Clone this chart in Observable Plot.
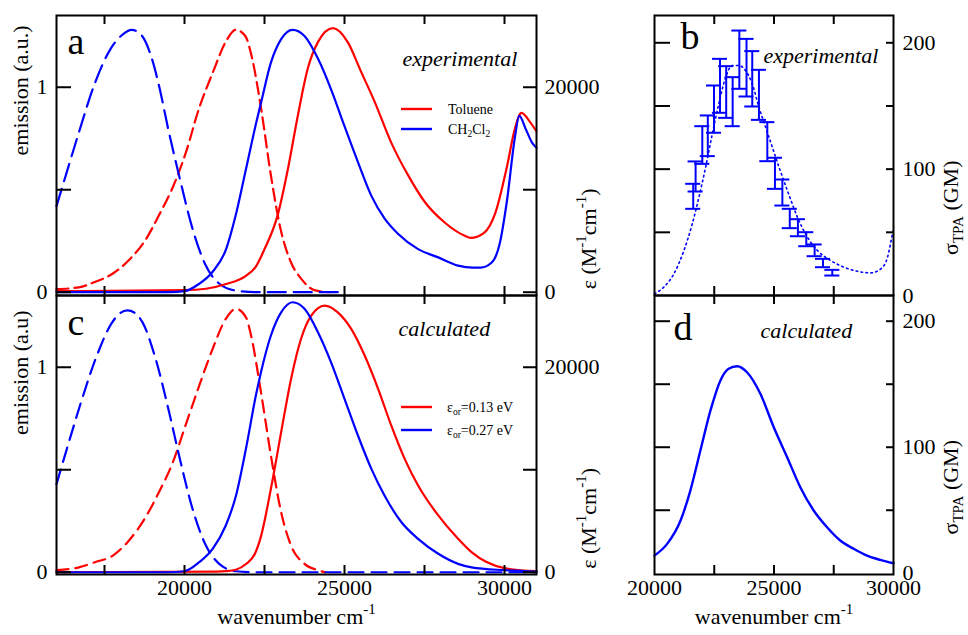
<!DOCTYPE html>
<html>
<head>
<meta charset="utf-8">
<script src="https://cdn.jsdelivr.net/npm/d3@7"></script>
<script src="https://cdn.jsdelivr.net/npm/@observablehq/plot@0.6"></script>
<style>
  html, body { margin: 0; padding: 0; background: #fff; }
  #fig { position: relative; width: 968px; height: 635px; overflow: hidden; background: #fff; }
  #fig svg { position: absolute; left: 0; top: 0; }
  #fig svg text, #fig svg tspan { font-family: "Liberation Serif", "DejaVu Serif", serif !important; }
</style>
</head>
<body>
<div id="fig"></div>
<script>
// ================= DATA =================
// Right-hand absorption axis: 20000 M^-1 cm^-1 lines up with emission = 1
const EPS_PER_UNIT = 20000;

// Panel a (experimental) — emission, normalised [wavenumber, a.u.]
const expEmToluene = [[16000,0.015],[16700,0.024],[17200,0.05],[17750,0.09],[18250,0.155],[18800,0.26],[19200,0.375],[19600,0.5],[20050,0.685],[20450,0.895],[20880,1.07],[21300,1.225],[21600,1.28],[21900,1.25],[22100,1.15],[22400,0.89],[22700,0.57],[23000,0.31],[23330,0.145],[23650,0.065],[24060,0.01],[24500,0]];
const expEmCH2Cl2 = [[16000,0.42],[16300,0.575],[16700,0.78],[17200,1.02],[17700,1.19],[18050,1.255],[18350,1.28],[18650,1.255],[19000,1.13],[19200,1.01],[19500,0.79],[19830,0.57],[20250,0.31],[20650,0.135],[21100,0.04],[21600,0.008],[22200,0],[25000,0]];
// Panel a — absorption [wavenumber, epsilon M^-1 cm^-1]
const expAbsToluene = [[16000,100],[20000,200],[20670,340],[21300,800],[21920,1600],[22230,2500],[22500,4200],[22910,7500],[23230,12000],[23540,17200],[23850,21800],[24170,24400],[24640,25760],[25100,24400],[25520,21500],[25940,18600],[26460,14600],[26990,11400],[27510,8800],[28130,6800],[28760,5500],[28940,5300],[29360,5800],[29720,7800],[30080,12300],[30320,15900],[30530,17500],[30800,16600],[31000,15700]];
const expAbsCH2Cl2 = [[16000,0],[19500,0],[20000,100],[20450,800],[20880,2000],[21300,4200],[21600,7500],[21920,12000],[22230,16400],[22400,18600],[22700,22400],[23020,24700],[23380,25600],[23750,25000],[24170,22800],[24580,19800],[25000,16200],[25420,12700],[25840,9400],[26250,7200],[26670,5700],[27300,4200],[27930,3400],[28550,2600],[29000,2400],[29250,2400],[29600,2900],[29840,4600],[30080,9000],[30320,15000],[30460,17200],[30680,15800],[30860,14600],[31000,14100]];

// Panel c (calculated) — emission
const calcEm013 = [[16000,0.01],[16700,0.024],[17220,0.05],[17750,0.08],[18265,0.155],[18790,0.27],[19200,0.39],[19620,0.53],[20040,0.72],[20460,0.91],[20880,1.09],[21290,1.236],[21610,1.285],[21920,1.244],[22080,1.155],[22390,0.878],[22700,0.57],[23020,0.293],[23330,0.13],[23750,0.041],[24170,0.01],[24400,0]];
const calcEm027 = [[16000,0.43],[16385,0.634],[16800,0.846],[17220,1.04],[17745,1.22],[18000,1.265],[18215,1.277],[18450,1.265],[18685,1.22],[19100,1.04],[19520,0.78],[19830,0.57],[20250,0.31],[20670,0.13],[21085,0.041],[21600,0.005],[22200,0],[31000,0]];
// Panel c — absorption (epsilon)
const calcAbs013 = [[16000,0],[21000,60],[21290,100],[21600,240],[21920,800],[22200,1800],[22390,3500],[22700,8140],[23020,13660],[23330,18860],[23640,22760],[23960,25040],[24380,26020],[24790,25360],[25210,23740],[25630,21140],[26050,17900],[26460,14320],[26880,11060],[27300,8460],[27930,5540],[28550,3260],[28970,1960],[30000,400],[31000,100]];
const calcAbs027 = [[16000,0],[19500,0],[20000,100],[20460,980],[20880,2280],[21290,4560],[21610,7480],[21920,12040],[22230,17240],[22390,19520],[22700,23100],[23020,25360],[23380,26340],[23750,25700],[24170,23420],[24580,20480],[25000,16920],[25420,13340],[25840,10080],[26250,7480],[26780,4880],[27300,3260],[27930,1800],[28550,820],[28970,480],[30000,200],[31000,60]];

// Panel b (experimental TPA, GM) — error bars
const tpaWn   = [21620,21720,22000,22230,22490,22740,23000,23270,23550,23850,24090,24370,24720,25040,25350,25660,26000,26350,26700,27050,27440];
const tpaLow  = [68.6,82.3,104.2,110.3,128.8,144.6,140.6,134.0,163.6,157.5,149.6,139.0,106.3,84.4,71.2,53.3,46.9,39.0,31.1,22.4,15.8];
const tpaHigh = [88.4,106.1,134.0,142.5,166.2,187.3,181.5,172.8,209.7,203.1,193.4,178.6,137.2,109.0,91.8,68.6,60.4,50.1,40.4,29.0,20.3];
// Panel b — dotted reference curve
const tpaDotted = [[20000,1.3],[20390,6.6],[20810,17.1],[21230,35.6],[21580,56.7],[21860,77.8],[22140,101.6],[22420,128],[22690,151.7],[22980,172.8],[23250,182],[23530,182],[23810,178],[24090,167.5],[24370,149],[24650,133.2],[24930,117.4],[25210,101.5],[25560,83.1],[25980,62],[26400,46.1],[26820,35.6],[27370,27.7],[27930,22.4],[28490,19.2],[29050,17.9],[29470,21.1],[29750,30.3],[29960,48.8],[30000,52]];
// Panel d (calculated TPA, GM)
const tpaCalc = [[20000,14],[20530,23.3],[21090,41.8],[21500,65.6],[21920,97.4],[22340,129],[22760,153],[23100,162.2],[23460,164.3],[23870,159.5],[24430,142.4],[24990,115.9],[25550,92.1],[26100,68.3],[26660,49.8],[27220,36.5],[27770,26],[28330,19.4],[28890,14],[29450,10.6],[30000,7.9]];

// Ticks and tick labels
const xTicksAC  = [17500,20000,22500,25000,27500,30000];
const xLabelsAC = [20000,25000,30000];
const emTicks   = [0,0.5,1];
const emLabels  = [0,1];
const epsTicks  = [0,10000,20000];
const epsLabels = [0,20000];
const xTicksBD  = [22500,25000,27500];
const xLabelsBD = [20000,25000,30000];
const gmTicks   = [50,100,150,200];
const gmLabels  = [0,100,200];

// ================= LAYOUT / STYLE =================
const W = 968, H = 635;
const FONT = "Liberation Serif, DejaVu Serif, serif";
const RED = "#ff0000", BLUE = "#0000ff";
const F = {
  a: {l: 56,  r: 536, t: 15,  b: 295},
  c: {l: 56,  r: 536, t: 295, b: 574},
  b: {l: 654, r: 893, t: 15,  b: 295},
  d: {l: 654, r: 893, t: 295, b: 574}
};
const tbl = (arr) => arr.map(([x, y]) => ({x, y}));

function makePlot(f, xDomain, yDomain, marks) {
  return Plot.plot({
    width: W, height: H,
    marginLeft: f.l, marginRight: W - f.r, marginTop: f.t, marginBottom: H - f.b,
    x: {domain: xDomain, axis: null},
    y: {domain: yDomain, axis: null},
    style: {background: "transparent", overflow: "visible", fontFamily: FONT},
    marks
  });
}
function tickMarks(f, xt, ytL, ytR, lenL, lenR, lenX) {
  const fw = f.r - f.l, fh = f.b - f.t;
  const st = {stroke: "black", strokeWidth: 2};
  return [
    Plot.tickY(ytL, {y: d => d, insetRight: fw - lenL, ...st}),
    Plot.tickY(ytR, {y: d => d, insetLeft: fw - lenR, ...st}),
    Plot.tickX(xt, {x: d => d, insetBottom: fh - lenX, ...st}),
    Plot.tickX(xt, {x: d => d, insetTop: fh - lenX, ...st})
  ];
}
const txt = (data, o) => Plot.text(data, {fontSize: 22, fontFamily: FONT, fill: "black", ...o});
const spec = (data, o) => Plot.line(tbl(data), {x: "x", y: "y", strokeWidth: 2.2, curve: "monotone-x", ...o});
const absSpec = (data, o) => Plot.line(tbl(data), {x: "x", y: d => d.y / EPS_PER_UNIT, strokeWidth: 2.2, curve: "monotone-x", ...o});

// ---------- Panel a ----------
const plotA = makePlot(F.a, [16000, 31000], [-0.016, 1.35], [
  spec(expEmToluene, {stroke: RED, strokeDasharray: "12 6"}),
  spec(expEmCH2Cl2, {stroke: BLUE, strokeDasharray: "18 8"}),
  absSpec(expAbsToluene, {stroke: RED}),
  absSpec(expAbsCH2Cl2, {stroke: BLUE}),
  ...tickMarks(F.a, xTicksAC, emTicks, epsTicks.map(e => e / EPS_PER_UNIT), 15, 13, 9),
  Plot.frame({stroke: "black", strokeWidth: 2}),
  txt(emLabels, {y: d => d, text: d => String(d), frameAnchor: "left", textAnchor: "end", dx: -9}),
  txt(epsLabels, {y: d => d / EPS_PER_UNIT, text: d => String(d), frameAnchor: "right", textAnchor: "start", dx: 8}),
  txt(["emission (a.u.)"], {text: d => d, frameAnchor: "left", rotate: -90, dx: -36}),
  txt(["ε (M^{-1}cm^{-1})"], {text: d => d, frameAnchor: "right", rotate: -90, dx: 52, dy: 33}),
  txt(["a"], {text: d => d, frameAnchor: "top-left", textAnchor: "start", lineAnchor: "bottom", dx: 11, dy: 38, fontSize: 38}),
  txt(["experimental"], {text: d => d, frameAnchor: "top-left", textAnchor: "start", lineAnchor: "bottom", dx: 346, dy: 50, fontStyle: "italic"})
]);

// ---------- Panel c ----------
const plotC = makePlot(F.c, [16000, 31000], [-0.011, 1.35], [
  spec(calcEm013, {stroke: RED, strokeDasharray: "12 7"}),
  spec(calcEm027, {stroke: BLUE, strokeDasharray: "15 8"}),
  absSpec(calcAbs013, {stroke: RED}),
  absSpec(calcAbs027, {stroke: BLUE}),
  ...tickMarks(F.c, xTicksAC, emTicks, epsTicks.map(e => e / EPS_PER_UNIT), 15, 13, 9),
  Plot.frame({stroke: "black", strokeWidth: 2}),
  txt(emLabels, {y: d => d, text: d => String(d), frameAnchor: "left", textAnchor: "end", dx: -9}),
  txt(epsLabels, {y: d => d / EPS_PER_UNIT, text: d => String(d), frameAnchor: "right", textAnchor: "start", dx: 8}),
  txt(xLabelsAC, {x: d => d, text: d => String(d), frameAnchor: "bottom", dy: 20}),
  txt(["emission (a.u)"], {text: d => d, frameAnchor: "left", rotate: -90, dx: -36}),
  txt(["ε (M^{-1}cm^{-1})"], {text: d => d, frameAnchor: "right", rotate: -90, dx: 52, dy: 33}),
  txt(["wavenumber cm^{-1}"], {text: d => d, frameAnchor: "bottom", dy: 49}),
  txt(["c"], {text: d => d, frameAnchor: "top-left", textAnchor: "start", lineAnchor: "bottom", dx: 11, dy: 39, fontSize: 38}),
  txt(["calculated"], {text: d => d, frameAnchor: "top-left", textAnchor: "start", lineAnchor: "bottom", dx: 342, dy: 40, fontStyle: "italic"})
]);

// ---------- Panel b ----------
const bars = tpaWn.map((x, i) => ({x, lo: tpaLow[i], hi: tpaHigh[i]}));
const CAP = 315; // half cap width in wavenumber units (~7.5 px)
const plotB = makePlot(F.b, [20000, 30000], [0, 221.6], [
  Plot.line(tbl(tpaDotted), {x: "x", y: "y", stroke: BLUE, strokeWidth: 1.6, strokeDasharray: "1.6 3.4", curve: "monotone-x"}),
  Plot.ruleX(bars, {x: "x", y1: "lo", y2: "hi", stroke: BLUE, strokeWidth: 2}),
  Plot.ruleY(bars, {y: "lo", x1: d => d.x - CAP, x2: d => d.x + CAP, stroke: BLUE, strokeWidth: 2}),
  Plot.ruleY(bars, {y: "hi", x1: d => d.x - CAP, x2: d => d.x + CAP, stroke: BLUE, strokeWidth: 2}),
  ...tickMarks(F.b, xTicksBD, gmTicks, gmTicks, 16, 7, 9),
  Plot.frame({stroke: "black", strokeWidth: 2}),
  txt(gmLabels, {y: d => d, text: d => String(d), frameAnchor: "right", textAnchor: "start", dx: 9}),
  txt(["σ_{TPA} (GM)"], {text: d => d, frameAnchor: "right", rotate: -90, dx: 57, dy: 5}),
  txt(["b"], {text: d => d, frameAnchor: "top-left", textAnchor: "start", lineAnchor: "bottom", dx: 26, dy: 33, fontSize: 38}),
  txt(["experimental"], {text: d => d, frameAnchor: "top-left", textAnchor: "start", lineAnchor: "bottom", dx: 109, dy: 47, fontStyle: "italic"})
]);

// ---------- Panel d ----------
const plotD = makePlot(F.d, [20000, 30000], [-1, 220.4], [
  Plot.line(tbl(tpaCalc), {x: "x", y: "y", stroke: BLUE, strokeWidth: 2.4, curve: "monotone-x"}),
  ...tickMarks(F.d, xTicksBD, gmTicks, gmTicks, 16, 7, 9),
  Plot.frame({stroke: "black", strokeWidth: 2}),
  txt(gmLabels, {y: d => d, text: d => String(d), frameAnchor: "right", textAnchor: "start", dx: 9}),
  txt(xLabelsBD, {x: d => d, text: d => String(d), frameAnchor: "bottom", dy: 20}),
  txt(["σ_{TPA} (GM)"], {text: d => d, frameAnchor: "right", rotate: -90, dx: 57, dy: 5}),
  txt(["wavenumber cm^{-1}"], {text: d => d, frameAnchor: "bottom", dy: 49}),
  txt(["d"], {text: d => d, frameAnchor: "top-left", textAnchor: "start", lineAnchor: "bottom", dx: 19, dy: 44, fontSize: 38}),
  txt(["calculated"], {text: d => d, frameAnchor: "top-left", textAnchor: "start", lineAnchor: "bottom", dx: 106, dy: 42, fontStyle: "italic"})
]);

// ---------- Legends ----------
function addLegend(svg, x1, x2, xt, items) {
  const g = d3.select(svg).append("g");
  for (const it of items) {
    g.append("line").attr("x1", x1).attr("x2", x2).attr("y1", it.y).attr("y2", it.y)
      .attr("stroke", it.color).attr("stroke-width", 2.4);
    g.append("text").attr("x", xt).attr("y", it.y).attr("dy", "0.35em").attr("text-anchor", "start")
      .attr("font-size", 14).attr("font-family", FONT).attr("fill", "black").text(it.label);
  }
}
addLegend(plotA, 401, 432, 448, [
  {y: 109, color: RED, label: "Toluene"},
  {y: 129, color: BLUE, label: "CH_{2}Cl_{2}"}
]);
addLegend(plotC, 401, 432, 447, [
  {y: 407, color: RED, label: "ε_{or}=0.13 eV"},
  {y: 430, color: BLUE, label: "ε_{or}=0.27 eV"}
]);

const fig = document.getElementById("fig");
[plotA, plotC, plotB, plotD].forEach(p => fig.appendChild(p));

// ---------- sub/superscript rendering ----------
function richify(root) {
  root.querySelectorAll("text").forEach(t => {
    const s = t.textContent;
    if (!/[_^]\{/.test(s)) return;
    const fs = parseFloat(getComputedStyle(t).fontSize) || 16;
    const parts = [];
    const re = /([_^])\{([^}]*)\}/g;
    let last = 0, m;
    while ((m = re.exec(s))) {
      if (m.index > last) parts.push({t: s.slice(last, m.index), k: ""});
      parts.push({t: m[2], k: m[1]});
      last = re.lastIndex;
    }
    if (last < s.length) parts.push({t: s.slice(last), k: ""});
    while (t.firstChild) t.removeChild(t.firstChild);
    let shift = 0;
    for (const p of parts) {
      const ts = document.createElementNS("http://www.w3.org/2000/svg", "tspan");
      const target = p.k === "^" ? -0.45 * fs : p.k === "_" ? 0.24 * fs : 0;
      const dy = target - shift;
      if (dy) ts.setAttribute("dy", dy.toFixed(2));
      shift = target;
      if (p.k) ts.setAttribute("font-size", (0.68 * fs).toFixed(1));
      ts.textContent = p.t;
      t.appendChild(ts);
    }
  });
}
richify(fig);
</script>
</body>
</html>
